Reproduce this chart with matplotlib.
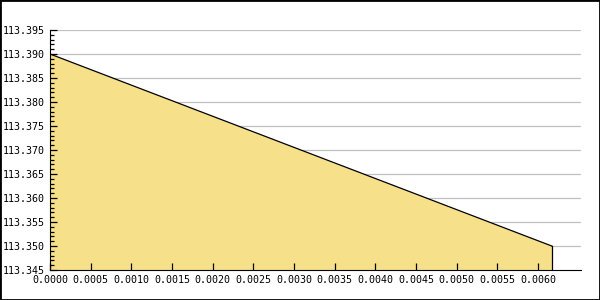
import numpy as np
import matplotlib
matplotlib.use('Agg')
import matplotlib.pyplot as plt
from matplotlib.ticker import MultipleLocator, FormatStrFormatter

x_vals = [0.0, 0.00617]
y_vals = [113.390, 113.350]

fig = plt.figure(figsize=(6, 3), dpi=100)
ax = fig.add_axes([50/600, 30/300, 531/600, 240/300])

ax.fill_between(x_vals, y_vals, 113.345, color='#f7e08a', lw=0, zorder=1)
ax.plot(x_vals, y_vals, color='black', lw=0.9, zorder=2)
ax.plot([x_vals[-1], x_vals[-1]], [113.345, y_vals[-1]], color='black', lw=0.9, zorder=2)

ax.set_xlim(0, 0.00653)
ax.set_ylim(113.345, 113.395)
ax.yaxis.set_major_locator(MultipleLocator(0.005))
ax.yaxis.set_minor_locator(MultipleLocator(0.001))
ax.set_xticks(np.arange(0, 0.00601, 0.0005))
ax.yaxis.set_major_formatter(FormatStrFormatter('%.3f'))
ax.xaxis.set_major_formatter(FormatStrFormatter('%.4f'))

# grid lines below the filled area
for yt in ax.get_yticks():
    if 113.3455 < yt < 113.3955:
        ax.axhline(yt, color='#c0c0c0', lw=0.9, zorder=0)

for s in ['top', 'right']:
    ax.spines[s].set_visible(False)
ax.tick_params(direction='in', labelsize=7.2, length=5, width=0.9)
ax.tick_params(axis='y', pad=4)
ax.tick_params(axis='x', pad=3.5)
ax.tick_params(which='minor', direction='in', length=3, width=0.9)
for lbl in ax.get_xticklabels() + ax.get_yticklabels():
    lbl.set_family('DejaVu Sans Mono')

fig.patches.append(plt.Rectangle((0, 0), 1, 1, transform=fig.transFigure,
                                 fill=False, edgecolor='black', lw=2))
fig.savefig('out.png', dpi=100)
